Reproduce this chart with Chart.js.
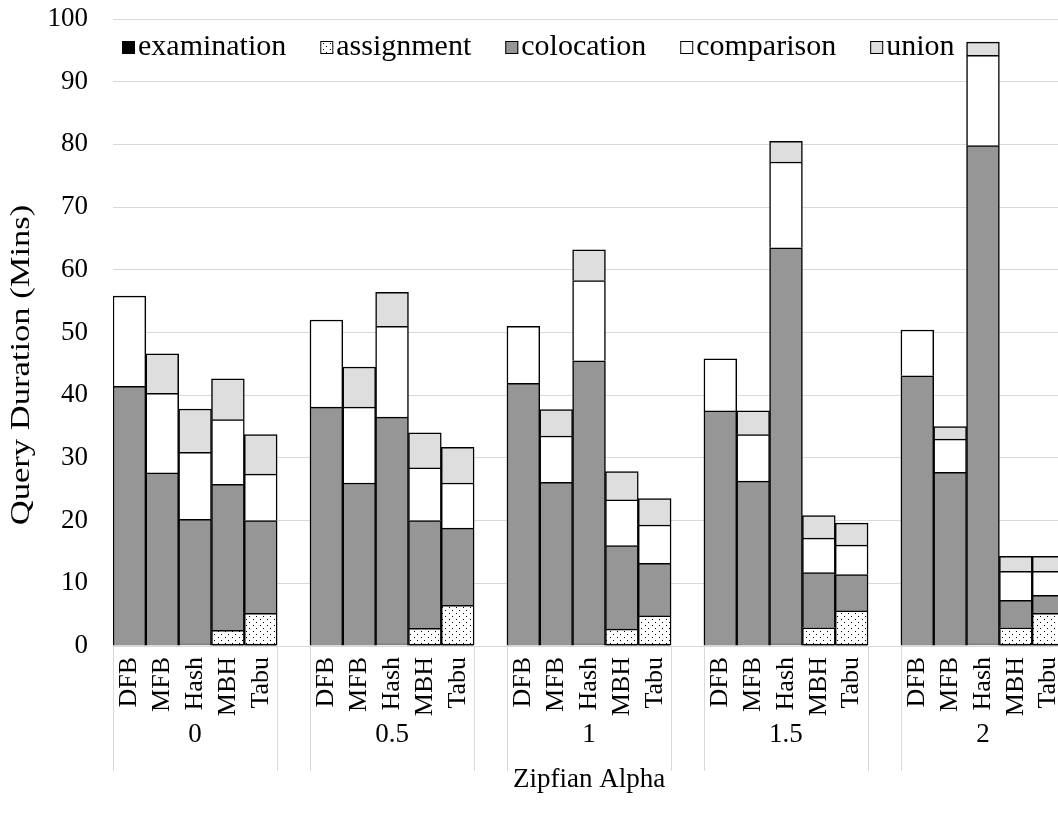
<!DOCTYPE html>
<html>
<head>
<meta charset="utf-8">
<script src="https://cdn.jsdelivr.net/npm/chart.js@4.4.0/dist/chart.umd.min.js"></script>
<style>
  body { margin: 0; overflow: hidden; background: #fff; }
  #wrap { width: 1083px; height: 823px; }
</style>
</head>
<body>
<div id="wrap"><canvas id="grafico" width="1083" height="823"></canvas></div>
<script>
const algoritmos = ['DFB', 'MFB', 'Hash', 'MBH', 'Tabu'];
const alphas = ['0', '0.5', '1', '1.5', '2'];
const yTicks = [0, 10, 20, 30, 40, 50, 60, 70, 80, 90, 100];

// 5 values per alpha, in the order of algoritmos
const examination = [0, 0, 0, 0.3, 0.3,  0, 0, 0, 0.3, 0.3,  0, 0, 0, 0.3, 0.3,  0, 0, 0, 0.3, 0.3,  0, 0, 0, 0.3, 0.3];
const assignment  = [0, 0, 0.3, 2.2, 4.9,  0, 0, 0.3, 2.5, 6.2,  0, 0, 0.3, 2.4, 4.5,  0, 0, 0.3, 2.6, 5.3,  0, 0, 0.3, 2.6, 4.9];
const colocation  = [41.4, 27.6, 19.9, 23.3, 14.8,  38.1, 26.0, 36.2, 17.2, 12.3,  41.9, 26.1, 45.2, 13.3, 8.4,  37.5, 26.3, 63.2, 8.8, 5.8,  43.1, 27.7, 79.5, 4.4, 2.9];
const comparison  = [14.4, 12.7, 10.7, 10.3, 7.4,  13.9, 12.1, 14.5, 8.4, 7.2,  9.1, 7.4, 12.8, 7.3, 6.1,  8.3, 7.4, 13.7, 5.5, 4.7,  7.3, 5.3, 14.4, 4.6, 3.8];
const union       = [0, 6.3, 6.9, 6.5, 6.3,  0, 6.4, 5.4, 5.6, 5.7,  0, 4.2, 4.9, 4.5, 4.2,  0, 3.8, 3.3, 3.6, 3.5,  0, 2.0, 2.1, 2.4, 2.4];

const FUENTE = "'Liberation Serif', 'Times New Roman', serif";
const canvas = document.getElementById('grafico');
const ctx = canvas.getContext('2d');

// one empty slot between alpha groups
function conHueco(valores, vacio) {
  const out = [];
  alphas.forEach((a, g) => {
    if (g > 0) out.push(vacio);
    for (let i = 0; i < algoritmos.length; i++) out.push(valores[g * algoritmos.length + i]);
  });
  return out;
}

const etiquetas = conHueco(alphas.flatMap(() => algoritmos), '');

function puntos() {
  const c = document.createElement('canvas');
  c.width = 7; c.height = 6;
  const p = c.getContext('2d');
  p.fillStyle = '#fff';
  p.fillRect(0, 0, 7, 6);
  p.fillStyle = '#000';
  p.fillRect(1, 1, 1, 1);
  p.fillRect(4, 4, 1, 1);
  return ctx.createPattern(c, 'repeat');
}

const series = [
  { label: 'examination', data: examination, color: '#000000' },
  { label: 'assignment', data: assignment, color: puntos() },
  { label: 'colocation', data: colocation, color: '#969696' },
  { label: 'comparison', data: comparison, color: '#ffffff' },
  { label: 'union', data: union, color: '#dedede' },
];

const ejeAgrupado = {
  id: 'ejeAgrupado',
  afterDraw(chart) {
    const { ctx, chartArea, scales: { x } } = chart;
    const paso = x.getPixelForValue(1) - x.getPixelForValue(0);
    ctx.save();
    ctx.strokeStyle = '#d9d9d9';
    ctx.lineWidth = 1;
    ctx.fillStyle = '#000';
    ctx.font = `27px ${FUENTE}`;
    ctx.textAlign = 'center';
    ctx.textBaseline = 'middle';
    alphas.forEach((a, g) => {
      const ini = g * (algoritmos.length + 1);
      const fin = ini + algoritmos.length - 1;
      const x0 = x.getPixelForValue(ini) - paso / 2;
      const x1 = x.getPixelForValue(fin) + paso / 2;
      [x0, x1].forEach((px) => {
        ctx.beginPath();
        ctx.moveTo(Math.round(px) + 0.5, chartArea.bottom);
        ctx.lineTo(Math.round(px) + 0.5, chartArea.bottom + 125);
        ctx.stroke();
      });
      ctx.fillText(a, (x0 + x1) / 2, chartArea.bottom + 89);
    });

    // y title, stretched like the original
    ctx.save();
    ctx.translate(22, 365);
    ctx.rotate(-Math.PI / 2);
    ctx.scale(1.28, 1);
    ctx.fillText('Query Duration (Mins)', 0, 0);
    ctx.restore();

    // legend inside the plot
    ctx.font = `30px ${FUENTE}`;
    ctx.textAlign = 'left';
    ctx.lineWidth = 1;
    let lx = chartArea.left + 9;
    const ly = chartArea.top + 28;
    chart.data.datasets.forEach((ds) => {
      ctx.fillStyle = ds.backgroundColor;
      ctx.fillRect(lx, ly - 6, 13, 13);
      ctx.strokeStyle = '#000';
      ctx.strokeRect(lx + 0.5, ly - 5.5, 12, 12);
      ctx.fillStyle = '#000';
      ctx.fillText(ds.label, lx + 16, ly);
      lx += 16 + ctx.measureText(ds.label).width + 34;
    });
    ctx.restore();
  }
};

new Chart(ctx, {
  type: 'bar',
  data: {
    labels: etiquetas,
    datasets: series.map((s) => ({
      label: s.label,
      data: conHueco(s.data, null),
      backgroundColor: s.color,
      borderColor: '#000',
      borderWidth: 1.5,
      categoryPercentage: 1,
      barPercentage: 1,
    })),
  },
  options: {
    responsive: false,
    animation: false,
    layout: { padding: { top: 19, right: 10, left: 0, bottom: 0 } },
    plugins: {
      legend: { display: false },
      tooltip: { enabled: false },
    },
    scales: {
      x: {
        stacked: true,
        grid: { display: false },
        border: { display: false },
        ticks: {
          autoSkip: false,
          minRotation: 90,
          maxRotation: 90,
          padding: 3,
          color: '#000',
          font: { family: FUENTE, size: 26 },
        },
        title: {
          display: true,
          text: 'Zipfian Alpha',
          color: '#000',
          font: { family: FUENTE, size: 27 },
          padding: { top: 0, bottom: 27 },
        },
        afterFit(scale) { scale.height = 177; },
      },
      y: {
        stacked: true,
        min: 0,
        max: 100,
        afterBuildTicks(scale) { scale.ticks = yTicks.map((v) => ({ value: v })); },
        grid: { color: '#d9d9d9', lineWidth: 1, drawTicks: false },
        border: { display: false },
        ticks: {
          padding: 25,
          color: '#000',
          font: { family: FUENTE, size: 27 },
        },
        afterFit(scale) {
          scale.width = 113;
          scale.paddingTop = 0;
          scale.paddingBottom = 0;
        },
      },
    },
  },
  plugins: [ejeAgrupado],
});
</script>
</body>
</html>
